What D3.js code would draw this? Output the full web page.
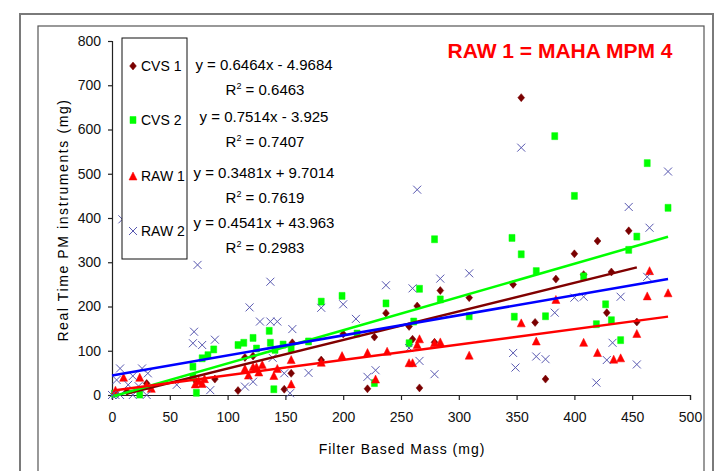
<!DOCTYPE html>
<html>
<head>
<meta charset="utf-8">
<script src="https://cdn.jsdelivr.net/npm/d3@7"></script>
<style>
  body { margin: 0; background: #fff; }
  svg text { font-family: Arial, "Liberation Sans", sans-serif; }
</style>
</head>
<body>
<svg id="chart" width="720" height="471"></svg>
<script>
// series names and their (filter mass, real time PM) points
var seriesNames = ['CVS 1', 'CVS 2', 'RAW 1', 'RAW 2'];

var cvs1 = [[13,8],[30,26],[73,30],[89,36],[109,10],[115,85],[122,88],[149,13],[155,49],[156,118],
  [181,79],[200,138],[221,14],[227,131],[237,185],[257,155],[260,126],[264,201],[266,16],[279,119],
  [284,236],[309,220],[347,250],[354,672],[366,164],[375,36],[384,262],[400,319],[408,272],[420,348],
  [428,186],[432,278],[447,371],[454,165]];

var cvs2 = [[2,3],[24,1],[70,40],[70,64],[73,5],[78,83],[83,90],[88,103],[109,113],[114,118],
  [122,129],[125,105],[136,145],[137,118],[140,13],[141,102],[148,114],[155,105],[170,121],[181,211],
  [199,224],[212,139],[227,27],[237,207],[257,117],[261,166],[266,240],[279,352],[284,216],[309,178],
  [346,355],[348,177],[354,318],[367,280],[375,178],[383,585],[400,450],[408,268],[419,160],[427,205],
  [432,169],[440,124],[447,328],[454,358],[463,524],[481,423]];

var raw1 = [[3,11],[10,40],[24,40],[30,22],[34,15],[72,25],[75,32],[78,26],[80,37],[115,60],
  [118,45],[122,64],[125,64],[127,52],[130,69],[140,44],[143,60],[155,80],[155,25],[181,74],
  [199,89],[221,96],[228,36],[238,99],[257,73],[260,73],[264,114],[266,127],[279,118],[284,120],
  [309,90],[354,163],[367,122],[384,216],[408,119],[420,96],[434,81],[440,84],[454,139],[463,224],
  [465,281],[481,231]];

var raw2 = [[0,0],[3,0],[4,34],[7,0],[7,60],[9,397],[14,23],[18,0],[18,43],[23,20],
  [26,60],[30,0],[31,49],[56,23],[70,117],[71,143],[74,294],[78,113],[85,11],[89,125],
  [115,19],[119,198],[122,30],[128,166],[137,256],[137,166],[139,84],[143,166],[149,49],[154,4],
  [156,149],[170,50],[181,197],[200,205],[211,172],[221,41],[228,56],[237,248],[257,106],[260,241],
  [264,464],[266,77],[279,47],[284,263],[309,275],[347,95],[349,62],[354,559],[367,87],[375,81],
  [383,186],[400,220],[408,222],[419,28],[428,79],[433,118],[440,222],[447,425],[454,69],[463,267],
  [465,378],[481,505]];

// trendline equations as printed on the chart
var slopes = [0.6464, 0.7514, 0.3481, 0.4541];
var intercepts = [-4.9684, -3.925, 9.7014, 43.963];
var eqLabels = ['y = 0.6464x - 4.9684', 'y = 0.7514x - 3.925', 'y = 0.3481x + 9.7014', 'y = 0.4541x + 43.963'];
var r2Labels = ['0.6463', '0.7407', '0.7619', '0.2983'];

var xTicks = [0, 50, 100, 150, 200, 250, 300, 350, 400, 450, 500];
var yTicks = [0, 100, 200, 300, 400, 500, 600, 700, 800];

var svg = d3.select('#chart');

var markerColors = ['#7a0000', '#00ff00', '#ff0000', '#5858b0'];
var lineColors = ['#800000', '#00ff00', '#ff0000', '#0000ff'];

// frames round the chart
svg.append('rect')
    .attr('x', 20).attr('y', 14).attr('width', 693).attr('height', 480)
    .attr('fill', 'none').attr('stroke', '#7a7a7a').attr('stroke-width', 2);
svg.append('rect')
    .attr('x', 38).attr('y', 26).attr('width', 666).attr('height', 470)
    .attr('fill', 'none').attr('stroke', '#555').attr('stroke-width', 1.2);

var x = d3.scaleLinear().domain([0, 500]).range([112, 690]);
var y = d3.scaleLinear().domain([0, 800]).range([395, 41]);

// axes
var yAxis = d3.axisLeft(y).tickValues(yTicks).tickSize(4).tickPadding(7);
var xAxis = d3.axisBottom(x).tickValues(xTicks).tickSize(5).tickPadding(12);

var gy = svg.append('g').attr('transform', 'translate(112,0)').call(yAxis);
var gx = svg.append('g').attr('transform', 'translate(0,395)').call(xAxis);
[gx, gy].forEach(function(g) {
    g.selectAll('path,line').attr('stroke', '#222').attr('stroke-width', 1.2);
    g.selectAll('text').attr('font-size', 14).attr('fill', '#111');
});

// axis titles
svg.append('text')
    .attr('x', 402).attr('y', 454)
    .attr('text-anchor', 'middle')
    .attr('font-size', 14)
    .attr('letter-spacing', 1)
    .text('Filter Based Mass (mg)');

svg.append('text')
    .attr('transform', 'translate(68,220) rotate(-90)')
    .attr('text-anchor', 'middle')
    .attr('font-size', 14)
    .attr('letter-spacing', 1.6)
    .text('Real Time PM instruments (mg)');

// marker shapes
function diamond(s) {
    return 'M0,' + (-s) + 'L' + (s * 0.85) + ',0L0,' + s + 'L' + (-s * 0.85) + ',0Z';
}
function square(w, h) {
    return 'M' + (-w / 2) + ',' + (-h / 2) + 'h' + w + 'v' + h + 'h' + (-w) + 'Z';
}
function triangle(w, h) {
    return 'M0,' + (-h / 2) + 'L' + (w / 2) + ',' + (h / 2) + 'L' + (-w / 2) + ',' + (h / 2) + 'Z';
}
function cross(s) {
    return 'M' + (-s) + ',' + (-s) + 'L' + s + ',' + s + 'M' + (-s) + ',' + s + 'L' + s + ',' + (-s);
}

var shapes = [
    { d: diamond(4), fill: true },
    { d: square(6, 7), fill: true },
    { d: triangle(8, 8), fill: true },
    { d: cross(4), fill: false }
];

var allSeries = [cvs1, cvs2, raw1, raw2];

allSeries.forEach(function(data, i) {
    svg.append('g').selectAll('path')
        .data(data)
        .join('path')
        .attr('transform', function(d) { return 'translate(' + x(d[0]) + ',' + y(d[1]) + ')'; })
        .attr('d', shapes[i].d)
        .attr('fill', shapes[i].fill ? markerColors[i] : 'none')
        .attr('stroke', markerColors[i])
        .attr('stroke-width', shapes[i].fill ? 0.5 : 1);
});

// linear trendlines over each series' x range
allSeries.forEach(function(data, i) {
    var ext = d3.extent(data, function(d) { return d[0]; });
    var pts = ext.map(function(v) { return [x(v), y(slopes[i] * v + intercepts[i])]; });
    svg.append('path')
        .attr('d', d3.line()(pts))
        .attr('fill', 'none')
        .attr('stroke', lineColors[i])
        .attr('stroke-width', 2.5);
});

// legend box
svg.append('rect')
    .attr('x', 122).attr('y', 38).attr('width', 65).attr('height', 221)
    .attr('fill', '#fff').attr('stroke', '#111').attr('stroke-width', 1);

var legendY = [66, 120, 176, 231];
seriesNames.forEach(function(name, i) {
    svg.append('path')
        .attr('transform', 'translate(133,' + legendY[i] + ')')
        .attr('d', shapes[i].d)
        .attr('fill', shapes[i].fill ? markerColors[i] : 'none')
        .attr('stroke', markerColors[i])
        .attr('stroke-width', shapes[i].fill ? 0.5 : 1);
    svg.append('text')
        .attr('x', 141).attr('y', legendY[i] + 5)
        .attr('font-size', 14)
        .text(name);
});

// equations and R squared
var eqY = [65, 117, 173, 223];
eqLabels.forEach(function(label, i) {
    svg.append('text')
        .attr('x', 264).attr('y', eqY[i] + 5)
        .attr('text-anchor', 'middle')
        .attr('font-size', 15)
        .text(label);
    var t = svg.append('text')
        .attr('x', 265).attr('y', eqY[i] + 30)
        .attr('text-anchor', 'middle')
        .attr('font-size', 15);
    t.append('tspan').text('R');
    t.append('tspan').attr('font-size', 9).attr('dy', -6).text('2');
    t.append('tspan').attr('dy', 6).text(' = ' + r2Labels[i]);
});

// heading
svg.append('text')
    .attr('x', 560).attr('y', 58)
    .attr('text-anchor', 'middle')
    .attr('font-size', 21)
    .attr('font-weight', 'bold')
    .attr('fill', '#ff0000')
    .text('RAW 1 = MAHA MPM 4');
</script>
</body>
</html>
